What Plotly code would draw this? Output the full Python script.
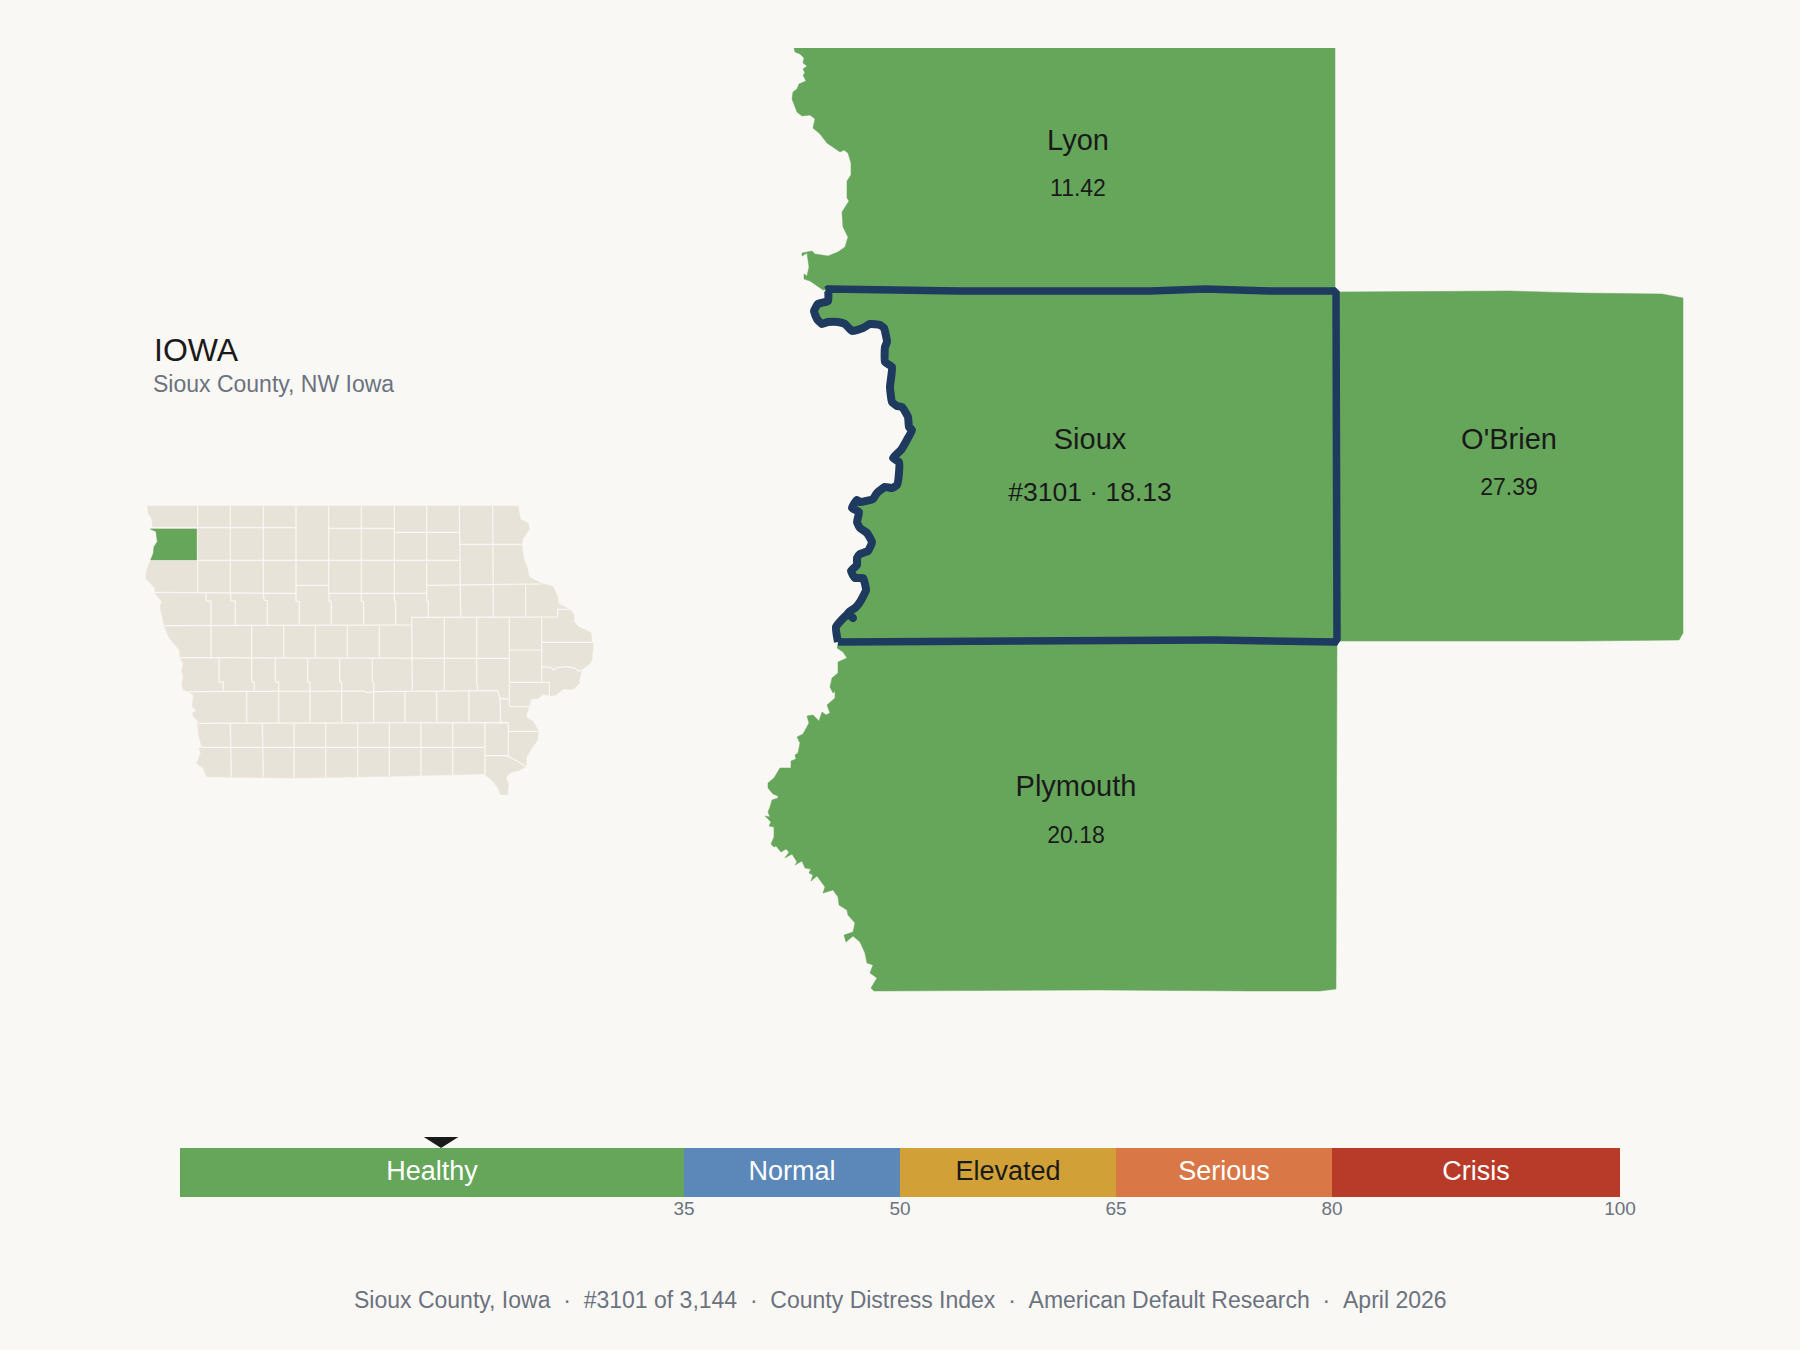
import plotly.graph_objects as go

BG = "#FAF8F4"
GREEN = "#66A65B"
TILE = "#E8E3D8"
NAVY = "#1E3A5F"
INK = "#1A1A1A"
GREY = "#6B7280"
FONT = "Liberation Sans"

# county outlines, main map in page pixels
lyon_x = [794,795,800,804,803,807,803,805,803,806,799,797,793,792,797,802,810,815,813,820,827,840,844,848,851,851,847,847,849,842,843,848,845,838,828,815,812,802,802,807,809,807,804,804,810,823,1335,1335]
lyon_y = [48,52,54,58,63,66,69,73,75,81,84,89,92,99,112,116,115,119,128,134,143,152,150,153,163,175,181,198,201,212,227,237,247,252,256,254,251,253,256,253,267,276,274,279,281,290,292,48]

sioux_river_x = [826,828,828,818,814,817,822,828,838,845,852,863,870,880,884,887,885,885,892,890,892,897,902,908,909,912,908,901,893,899,899,897,892,885,877,873,860,857,852,859,857,860,867,872,868,860,857,857,851,855,863,866,860,855,848,853,848,836,838]
sioux_river_y = [289,290,301,304,311,319,324,322,322,324,331,328,324,325,328,342,347,362,367,387,402,406,407,417,427,430,438,450,458,462,473,485,488,487,493,499,502,500,508,512,522,528,533,542,551,554,558,565,571,578,578,590,602,608,613,618,614,627,642]
sioux_box_x = [838,1100,1215,1335,1337,1337,1336,1334,1270,1205,1150,960,828,826]
sioux_box_y = [642,641,640,642,641,639,293,291,291,289,291,291,289,290]

obrien_x = [1335,1510,1580,1662,1683,1683,1679,1580,1337]
obrien_y = [292,291,293,294,298,633,640,641,641]

plymouth_x = [837,843,847,838,838,832,830,833,835,835,827,830,826,822,819,813,807,809,803,797,800,798,795,796,791,791,780,774,768,768,773,778,778,772,770,768,770,765,771,769,774,774,771,774,776,781,786,789,785,792,797,795,802,805,811,809,813,811,817,825,823,833,838,839,847,848,855,853,844,846,853,860,865,867,873,870,877,871,874,1100,1250,1320,1336,1337,838]
plymouth_y = [648,652,658,662,673,678,687,693,691,698,705,713,715,712,721,715,716,723,734,737,743,753,755,759,761,768,768,778,783,788,794,796,798,800,807,812,817,816,822,826,827,837,844,847,846,852,849,852,858,854,862,865,861,868,869,873,875,881,876,887,893,890,897,905,910,915,923,932,935,942,936,942,953,963,965,973,978,988,991,990,991,991,989,641,641]

# inset map, in its own 1440 x 960 coordinate space
state_x = [52,1165,1168,1172,1195,1198,1178,1175,1182,1190,1198,1228,1235,1270,1283,1285,1322,1332,1332,1345,1383,1386,1390,1386,1380,1355,1348,1348,1330,1300,1278,1262,1240,1225,1203,1197,1188,1210,1225,1223,1205,1190,1188,1165,1140,1128,1135,1133,1110,1105,1085,1065,1062,780,490,230,220,200,212,207,215,207,202,205,190,188,200,187,190,175,160,155,160,155,160,150,148,135,115,103,95,90,95,75,75,60,47,50,62,70,72,82,78,60,68,65,55,52]
state_y = [48,48,70,88,100,118,148,165,210,225,262,278,280,290,320,340,360,375,395,410,428,455,462,510,520,540,570,580,598,597,615,618,612,625,628,650,680,695,722,750,775,800,830,842,848,865,880,915,912,895,870,855,852,859,864,860,835,820,790,775,770,740,700,695,680,668,662,650,615,605,600,585,560,545,520,505,480,465,440,408,375,350,335,310,295,280,265,240,210,190,170,155,125,118,110,85,70,48]

inset_sioux_x = [60,200,200,62,70,72,82,78]
inset_sioux_y = [117,117,210,210,190,170,155,125]

county_lines = [
    [(203,48),(203,307)], [(301,48),(301,307)], [(400,48),(400,308)], [(498,48),(498,310)],
    [(596,48),(596,310)], [(694,48),(694,310)], [(793,48),(793,310)], [(890,48),(890,333),(895,335),(895,382)],
    [(988,48),(990,335),(992,382)], [(1088,48),(1090,382)],
    [(60,113),(498,113)], [(596,115),(793,115)], [(793,127),(988,127)], [(988,163),(1175,163)],
    [(62,211),(988,211)], [(498,286),(596,286)], [(890,286),(1235,282)],
    [(75,307),(498,310)], [(596,310),(890,310)],
    [(228,310),(228,332),(243,334),(243,503)], [(302,310),(302,332),(316,334),(316,405)],
    [(400,310),(402,330),(412,332),(412,405)], [(498,310),(498,333),(508,335),(508,405)],
    [(597,310),(597,333),(604,335),(604,405)], [(694,310),(694,333),(701,335),(701,405)],
    [(793,310),(793,333),(797,335),(797,405)], [(1187,287),(1187,382)],
    [(103,407),(845,405)], [(845,382),(1283,381),(1283,358),(1322,358)],
    [(845,382),(847,600)], [(943,382),(943,600)], [(1040,382),(1040,575),(1043,600)],
    [(1138,382),(1138,650)], [(1235,382),(1235,578)],
    [(365,405),(365,575),(373,577),(373,603)], [(461,405),(461,503)], [(556,405),(556,503)],
    [(652,405),(652,503)], [(748,405),(748,503)],
    [(150,503),(1138,505)], [(1138,480),(1235,480)], [(1235,457),(1388,457)],
    [(267,503),(267,575),(280,577),(280,603)], [(436,503),(436,575),(446,577),(446,603)],
    [(533,503),(533,575),(540,577),(540,698)], [(629,503),(629,575),(635,577),(635,700)],
    [(727,503),(727,575),(731,577),(731,700)],
    [(175,605),(630,603),(700,603),(715,608),(730,605),(1103,602),(1110,625),(1135,628)],
    [(1110,625),(1112,698)], [(1138,577),(1258,577),(1258,618)], [(1138,650),(1197,650)],
    [(1235,530),(1262,532),(1270,540),(1285,532),(1310,530),(1335,535),(1345,543),(1355,540)],
    [(350,605),(350,698)], [(446,603),(446,698)], [(825,603),(825,698)], [(920,603),(920,698)], [(1017,603),(1017,698)],
    [(205,700),(1135,698),(1135,797)], [(1135,724),(1225,724)], [(1065,700),(1065,855)],
    [(212,772),(1065,772)], [(1065,797),(1130,797),(1160,812),(1188,830)],
    [(301,700),(304,860)], [(397,700),(400,860)], [(492,700),(492,864)], [(587,700),(587,862)],
    [(683,700),(683,860)], [(778,700),(778,859)], [(873,700),(873,857)], [(968,700),(968,855)],
]

label_names = ["Lyon", "Sioux", "O'Brien", "Plymouth"]
label_scores = ["11.42", "#3101 · 18.13", "27.39", "20.18"]
label_x = [1078, 1090, 1509, 1076]
name_y = [143, 442, 442, 789]
score_y = [190, 494, 489, 837]

band_names = ["Healthy", "Normal", "Elevated", "Serious", "Crisis"]
band_start = [0, 35, 50, 65, 80]
band_size = [35, 15, 15, 15, 20]
band_colors = [GREEN, "#5B88B8", "#D1A138", "#D97746", "#B83A28"]
band_text = ["white", "white", INK, "white", "white"]
band_ticks = [35, 50, 65, 80, 100]
sioux_score = 18.13

fig = go.Figure()

for xs, ys in [(lyon_x, lyon_y), (plymouth_x, plymouth_y), (obrien_x, obrien_y)]:
    fig.add_trace(go.Scatter(x=xs, y=ys, mode="lines", fill="toself", fillcolor=GREEN,
                             line=dict(color=GREEN, width=0.5), hoverinfo="skip"))
fig.add_trace(go.Scatter(x=sioux_river_x + sioux_box_x[1:], y=sioux_river_y + sioux_box_y[1:], mode="lines",
                         fill="toself", fillcolor=GREEN, line=dict(width=0), hoverinfo="skip"))
fig.add_trace(go.Scatter(x=sioux_river_x, y=sioux_river_y, mode="lines", hoverinfo="skip",
                         line=dict(color=NAVY, width=8, shape="spline", smoothing=0.4)))
fig.add_trace(go.Scatter(x=sioux_box_x, y=sioux_box_y, mode="lines", hoverinfo="skip",
                         line=dict(color=NAVY, width=7.5)))

fig.add_trace(go.Scatter(x=label_x, y=name_y, mode="text", text=label_names,
                         textfont=dict(family=FONT, size=29, color=INK), hoverinfo="skip"))
fig.add_trace(go.Scatter(x=label_x, y=score_y, mode="text", text=label_scores,
                         textfont=dict(family=FONT, size=[23, 26.5, 23, 23], color=INK), hoverinfo="skip"))

# inset
fig.add_trace(go.Scatter(x=state_x, y=state_y, xaxis="x3", yaxis="y3", mode="lines", fill="toself",
                         fillcolor=TILE, line=dict(color=TILE, width=0.5), hoverinfo="skip"))
line_x, line_y = [], []
for seg in county_lines:
    line_x += [p[0] for p in seg] + [None]
    line_y += [p[1] for p in seg] + [None]
fig.add_trace(go.Scatter(x=line_x, y=line_y, xaxis="x3", yaxis="y3", mode="lines",
                         line=dict(color=BG, width=1.2), hoverinfo="skip"))
fig.add_trace(go.Scatter(x=inset_sioux_x, y=inset_sioux_y, xaxis="x3", yaxis="y3", mode="lines", fill="toself",
                         fillcolor=GREEN, line=dict(color=GREEN, width=0.5), hoverinfo="skip"))

# distress scale
fig.add_trace(go.Bar(x=band_size, base=band_start, y=[0.5] * 5, width=1, orientation="h",
                     xaxis="x2", yaxis="y2", marker=dict(color=band_colors, line=dict(width=0)), hoverinfo="skip"))
fig.add_trace(go.Scatter(x=[s + w / 2 for s, w in zip(band_start, band_size)], y=[0.49] * 5,
                         xaxis="x2", yaxis="y2", mode="text", text=band_names,
                         textfont=dict(family=FONT, size=27, color=band_text), hoverinfo="skip"))
fig.add_trace(go.Scatter(x=[sioux_score - 1.2, sioux_score + 1.2, sioux_score],
                         y=[60 / 49, 60 / 49, 1], xaxis="x2", yaxis="y2", mode="lines", fill="toself",
                         fillcolor=INK, line=dict(color=INK, width=0), hoverinfo="skip"))

hidden = dict(visible=False, showgrid=False, zeroline=False)
fig.update_layout(
    width=1800, height=1350, margin=dict(l=0, r=0, t=0, b=0, autoexpand=False),
    paper_bgcolor=BG, plot_bgcolor=BG, showlegend=False, barmode="overlay",
    xaxis=dict(domain=[0, 1], range=[0, 1800], **hidden),
    yaxis=dict(domain=[0, 1], range=[1350, 0], **hidden),
    xaxis2=dict(domain=[180 / 1800, 1620 / 1800], range=[0, 100], anchor="y2",
                tickmode="array", tickvals=band_ticks, ticktext=[str(t) for t in band_ticks],
                tickfont=dict(family=FONT, size=19, color=GREY), ticks="", ticklabelstandoff=-2,
                showgrid=False, zeroline=False, showline=False),
    yaxis2=dict(domain=[(1350 - 1197) / 1350, (1350 - 1137) / 1350], range=[0, 60 / 49], anchor="x2", **hidden),
    xaxis3=dict(domain=[130 / 1800, 610 / 1800], range=[0, 1440], anchor="y3", **hidden),
    yaxis3=dict(domain=[(1350 - 810) / 1350, (1350 - 490) / 1350], range=[960, 0], anchor="x3", **hidden),
    annotations=[
        dict(text="IOWA", x=152 / 1800, y=1 - 350 / 1350, xref="paper", yref="paper", xanchor="left", yanchor="middle",
             showarrow=False, font=dict(family=FONT, size=32, color=INK)),
        dict(text="Sioux County, NW Iowa", x=151 / 1800, y=1 - 384 / 1350, xref="paper", yref="paper", xanchor="left",
             yanchor="middle", showarrow=False, font=dict(family=FONT, size=23, color=GREY)),
        dict(text="Sioux County, Iowa\u00a0\u00a0·\u00a0\u00a0#3101 of 3,144\u00a0\u00a0·\u00a0\u00a0County Distress Index\u00a0\u00a0·\u00a0\u00a0American Default Research\u00a0\u00a0·\u00a0\u00a0April 2026",
             x=0.5, y=1 - 1300 / 1350, xref="paper", yref="paper", xanchor="center", yanchor="middle",
             showarrow=False, font=dict(family=FONT, size=23, color=GREY)),
    ],
)

fig.write_html("out.html", config={"displayModeBar": False, "responsive": False},
               post_script="document.documentElement.style.overflow='hidden';document.body.style.margin='0';document.body.style.overflow='hidden';")
